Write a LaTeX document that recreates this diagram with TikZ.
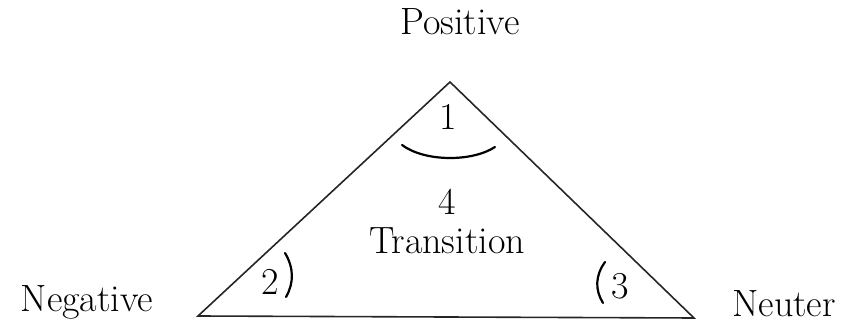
\documentclass[tikz,border=0pt]{standalone}
\usetikzlibrary{positioning}
\begin{document}
\begin{tikzpicture}[
    x=1pt, y=-1pt,
    lbl/.style={font=\fontsize{38}{44}\selectfont, inner sep=0pt, anchor=base},
    edge/.style={line width=1.6pt, draw=black!85},
    curl/.style={line width=2.2pt, line cap=round}
]
    \useasboundingbox (0,0) rectangle (851,328);

    \coordinate (apex) at (450,82);
    \coordinate (lcorner) at (198,316);
    \coordinate (rcorner) at (694,318);

    \node[lbl] (positive) at (460,35) {Positive};
    \node[lbl] (negative) at (87,312) {Negative};
    \node[lbl] (neuter) at (784,317) {Neuter};

    \node[lbl] (one) at (448,130) {1};
    \node[lbl] (two) at (270,295) {2};
    \node[lbl] (three) at (620,299) {3};
    \node[lbl] (four) at (447,215) {4};
    \node[lbl, below=12pt of four] (trans) {Transition};

    \draw[edge] (apex) -- (lcorner) -- (rcorner) -- cycle;

    \draw[curl] (402,145) .. controls (425,162) and (472,162) .. (495,147);
    \draw[curl] (285,253) .. controls (294,268) and (294,283) .. (286,297);
    \draw[curl] (605,262) .. controls (595,276) and (595,290) .. (603,303);
\end{tikzpicture}
\end{document}
